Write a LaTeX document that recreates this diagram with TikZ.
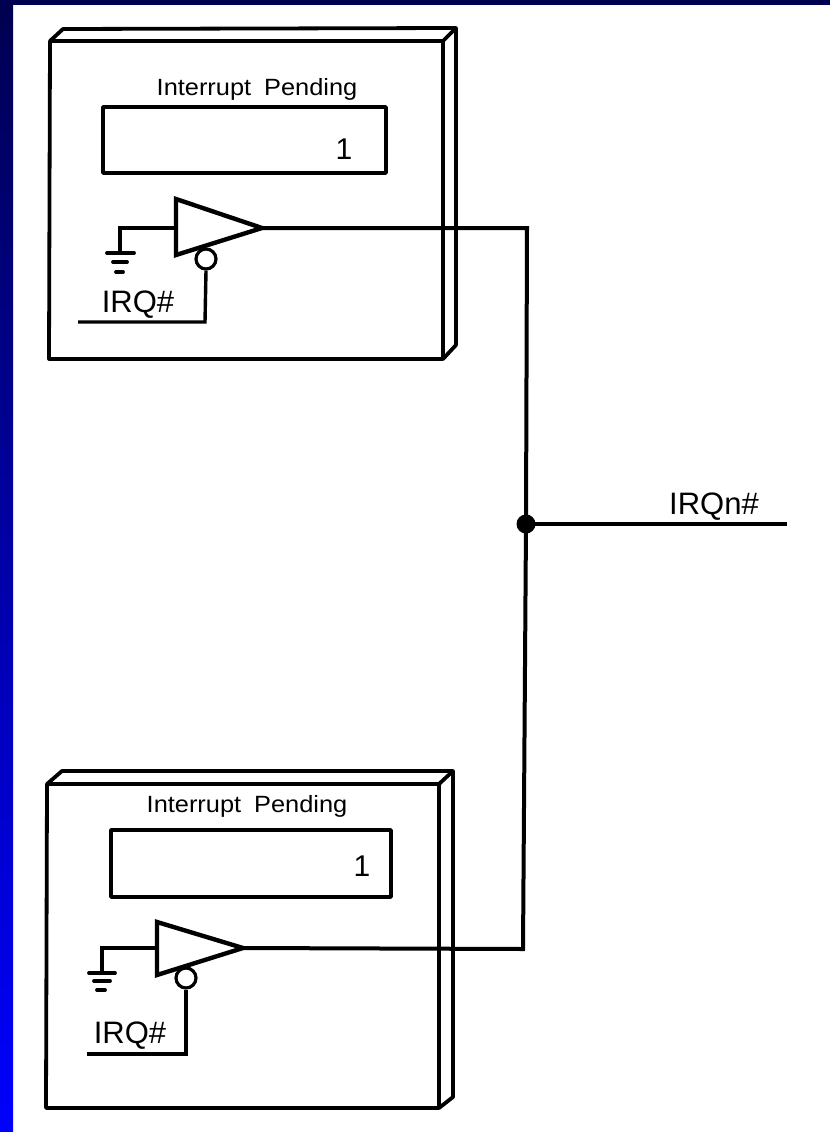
\documentclass[tikz,border=0pt]{standalone}
\usepackage{fontspec}
\setmainfont{Liberation Sans}
\newfontfamily\wideface[FakeStretch=1.08]{Liberation Sans}
\definecolor{navytop}{RGB}{0,0,80}
\definecolor{bluebot}{RGB}{0,0,255}
\begin{document}
\begin{tikzpicture}[x=1pt,y=-1pt,
  heavy/.style={draw=black,line width=3.8pt,line join=round,line cap=round},
  gate/.style={draw=black,line width=4.4pt,line join=miter},
  wire/.style={draw=black,line width=3.4pt,line join=miter},
  bus/.style={draw=black,line width=4pt,line join=miter},
  bubble/.style={circle,draw=black,line width=3.2pt,minimum size=20pt,inner sep=0pt,fill=white},
  title/.style={inner sep=0pt,font=\wideface\fontsize{23.5}{26}\selectfont},
  sig/.style={inner sep=0pt,font=\fontsize{31}{34}\selectfont},
  digit/.style={inner sep=0pt,font=\fontsize{30}{34}\selectfont}]
\useasboundingbox (0,0) rectangle (830,1132);
\fill[white] (0,0) rectangle (830,1132);
\fill[navytop] (0,0) rectangle (830,5);
\shade[top color=navytop, bottom color=bluebot] (0,0) rectangle (13,1132);
% box 1
\draw[heavy] (50,41) -- (443,41) -- (443,359) -- (49,359) -- cycle;
\draw[heavy] (50,41) -- (63,29) -- (456,28) -- (456,345) -- (443,359);
\draw[heavy] (443,41) -- (456,28);
\node[title] (t1) at (257,89) {Interrupt\hspace{0.55em}Pending};
\node[heavy,draw,minimum width=283pt,minimum height=66pt,inner sep=0pt] (r1) at (244.5,140) {};
\node[digit] (one1) at (344,149) {1};
\coordinate (a1) at (176,199); \coordinate (b1) at (176,255); \coordinate (c1) at (262,228);
\node[bubble] (bub1) at (206,259) {};
\draw[gate] (a1) -- (c1) -- (b1) -- cycle;
\coordinate (in1) at (176,228); \coordinate (g1) at (120,228); \coordinate (gb1) at (120,252);
\draw[wire] (in1) -- (g1) -- (gb1);
\draw[heavy] (107,253) -- (134,253);
\draw[heavy] (113,262) -- (127,262);
\draw[heavy] (116,272) -- (123,272);
\node[sig] (irq1) at (138,305) {IRQ\#};
\coordinate (e1) at (78,322); \coordinate (f1) at (205,322);
\draw[wire] (e1) -- (f1) -- (bub1.south);
% box 2
\draw[heavy] (47,784) -- (439,784) -- (439,1108) -- (46,1108) -- cycle;
\draw[heavy] (47,784) -- (62,771) -- (453,771) -- (453,1097) -- (439,1108);
\draw[heavy] (439,784) -- (453,771);
\node[title] (t2) at (247,806) {Interrupt\hspace{0.55em}Pending};
\node[heavy,draw,minimum width=280pt,minimum height=67pt,inner sep=0pt] (r2) at (251,863.5) {};
\node[digit] (one2) at (362,866) {1};
\coordinate (a2) at (157,922); \coordinate (b2) at (157,975); \coordinate (c2) at (243,948);
\node[bubble] (bub2) at (186,978) {};
\draw[gate] (a2) -- (c2) -- (b2) -- cycle;
\coordinate (in2) at (157,948); \coordinate (g2) at (102,948); \coordinate (gb2) at (102,973);
\draw[wire] (in2) -- (g2) -- (gb2);
\draw[heavy] (89,973) -- (115,973);
\draw[heavy] (94,981) -- (110,981);
\draw[heavy] (97,990) -- (105,990);
\node[sig] (irq2) at (130,1036) {IRQ\#};
\coordinate (e2) at (87,1054); \coordinate (f2) at (186,1054);
\draw[wire] (e2) -- (f2) -- (bub2.south);
% bus
\coordinate (top) at (527,228); \coordinate (bot) at (523,949); \coordinate (end) at (787,524);
\node[circle,fill=black,minimum size=19pt,inner sep=0pt] (j) at (526,524) {};
\draw[bus] (c1) -- (top) -- (j.center) -- (bot) -- (c2);
\draw[bus,line width=4.4pt] (j.center) -- (end);
\node[sig] (irqn) at (714,507) {IRQn\#};
\end{tikzpicture}
\end{document}
